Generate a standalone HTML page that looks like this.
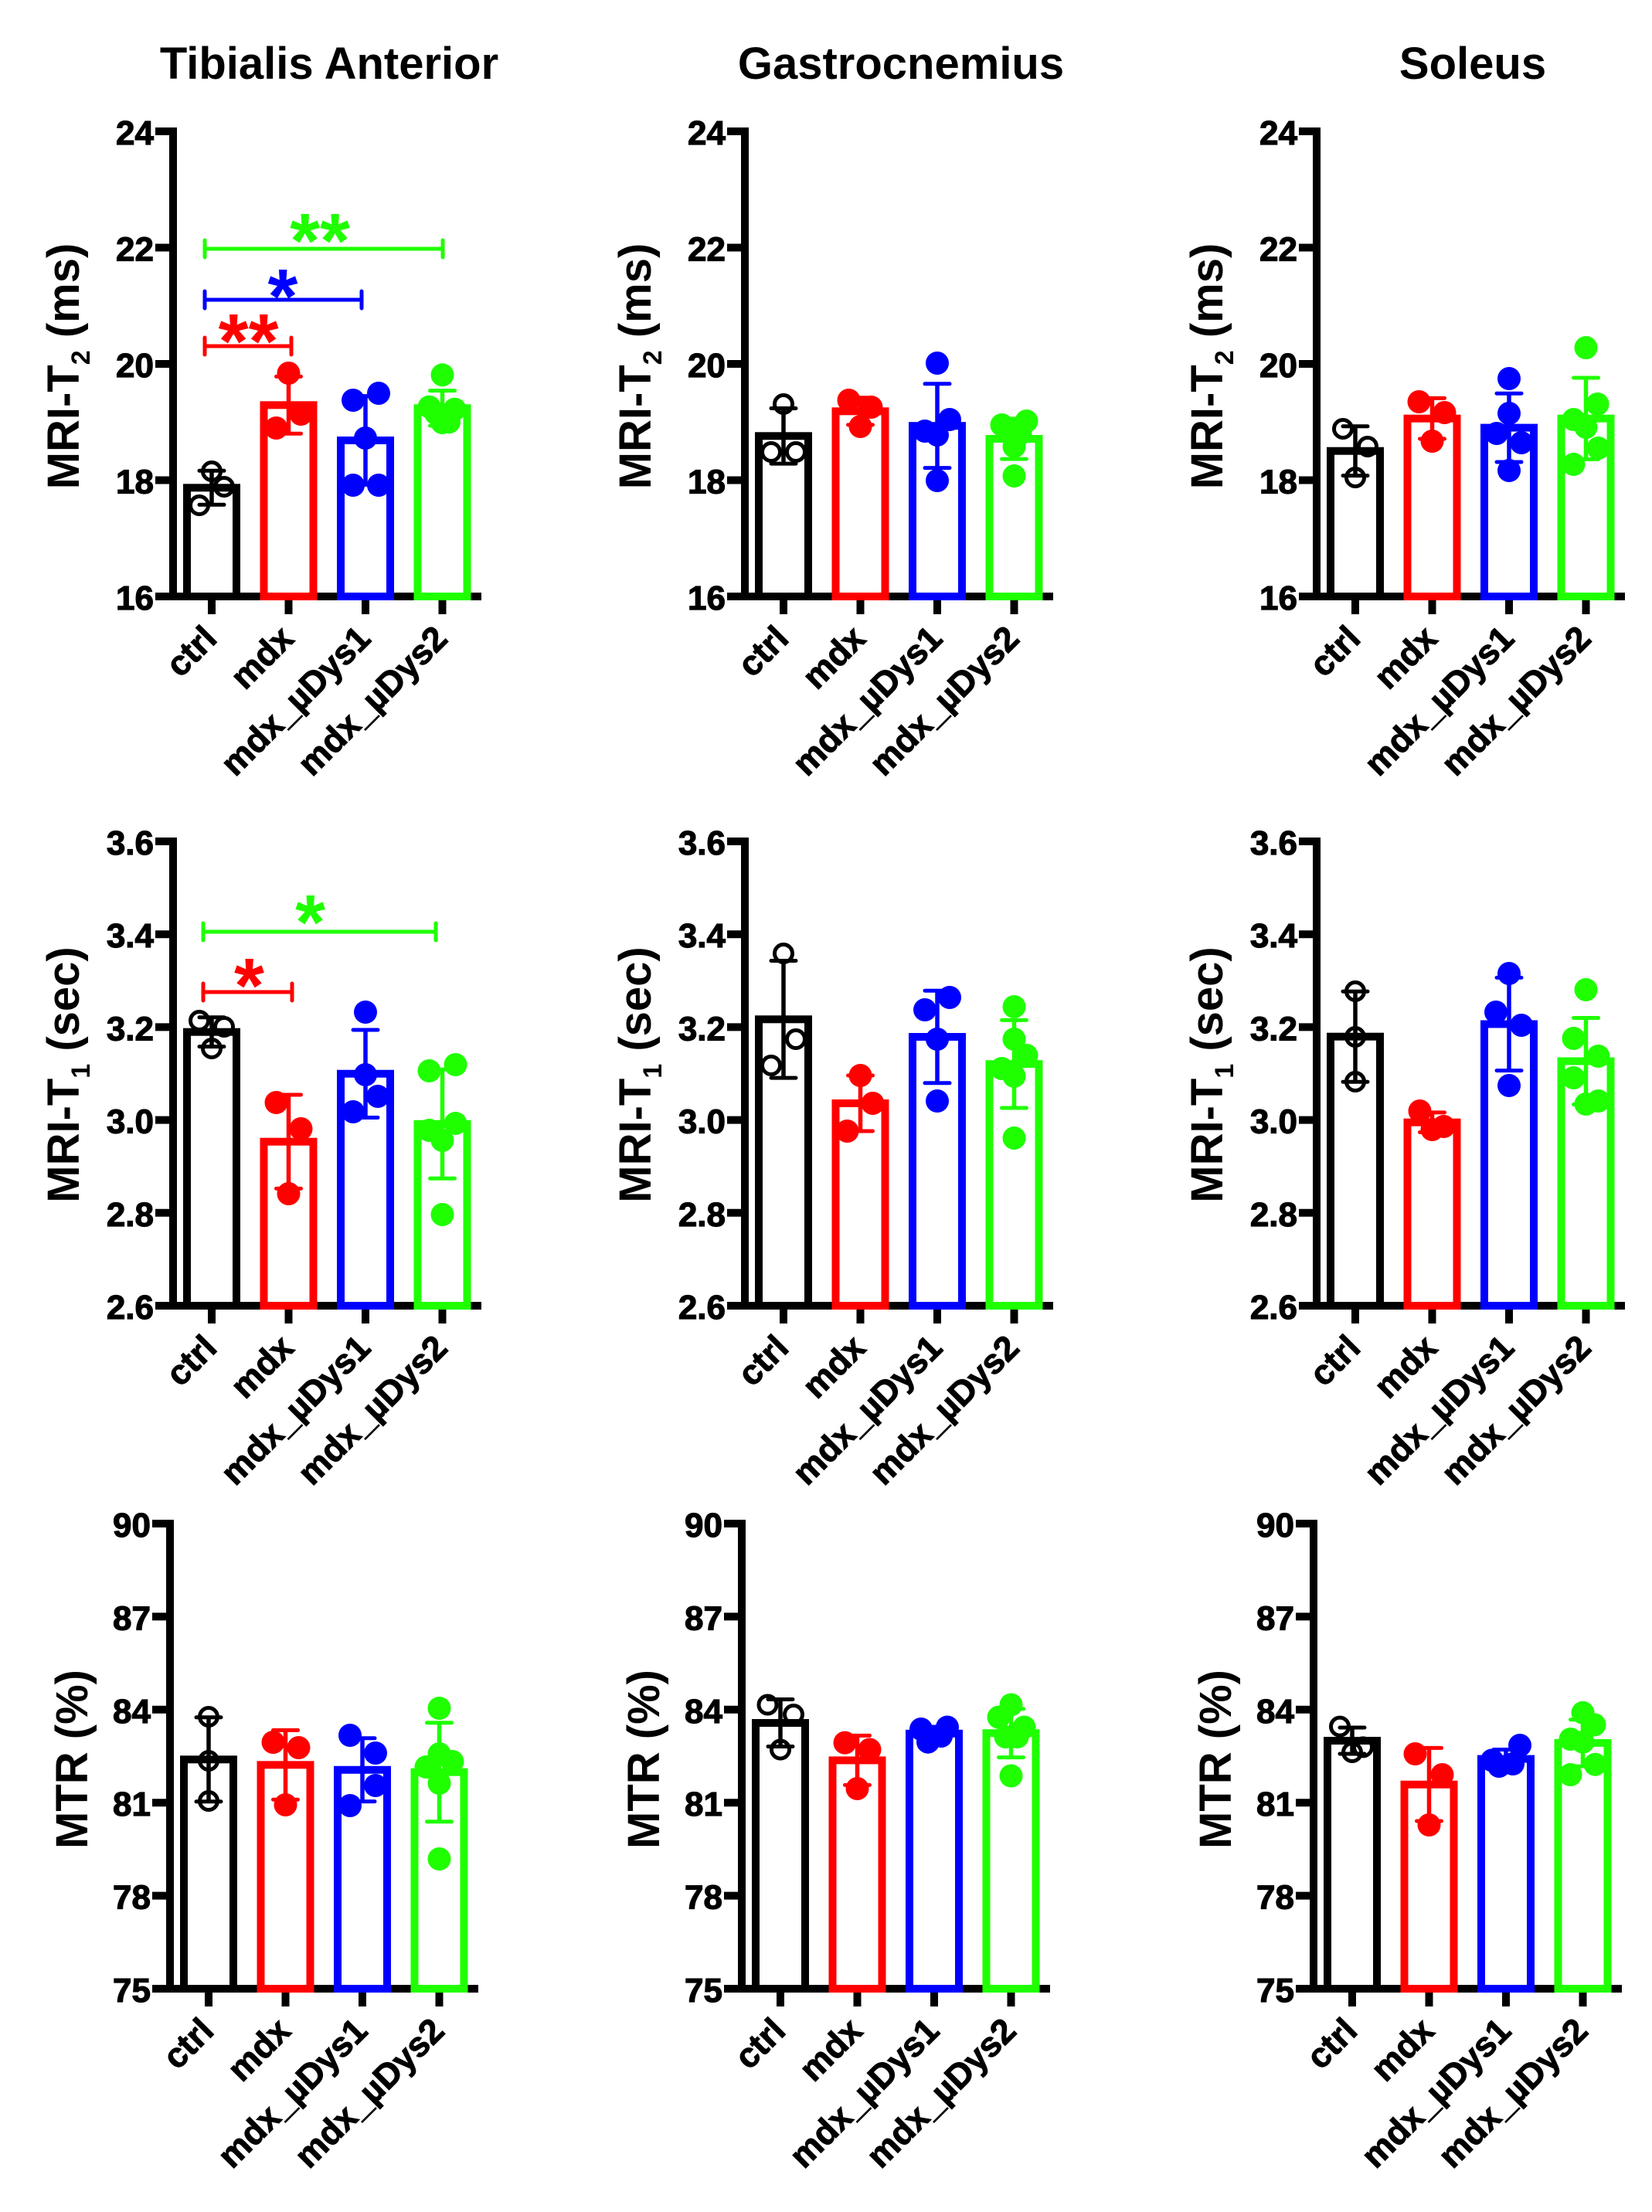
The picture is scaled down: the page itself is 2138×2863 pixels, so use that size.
<!DOCTYPE html>
<html><head><meta charset="utf-8">
<style>
html,body{margin:0;padding:0;background:#fff;}
svg{display:block;}
text{font-family:"Liberation Sans",Arial,sans-serif;font-weight:bold;fill:#000;}
.ax{stroke:#000;stroke-width:10;fill:none;}
.tl{font-size:44px;text-anchor:end;stroke:#000;stroke-width:1.2;}
.xl{font-size:45px;text-anchor:end;stroke:#000;stroke-width:1;}
.bar{fill:none;stroke-width:10;}
.eb{stroke-width:5.5;fill:none;}
.cap{stroke-width:5;stroke-linecap:round;fill:none;}
.k{stroke:#000;} .r{stroke:#f00;} .b{stroke:#00f;} .g{stroke:#1fff00;}
.ko{fill:none;stroke:#000;stroke-width:5;}
.rf{fill:#f00;} .bf{fill:#00f;} .gf{fill:#1fff00;}
.st{font-size:100px;text-anchor:middle;}
.ttl{font-size:58px;text-anchor:middle;}
</style></head>
<body>
<svg width="2138" height="2863" viewBox="0 0 2138 2863" xmlns="http://www.w3.org/2000/svg">
<rect width="2138" height="2863" fill="#fff"/>

<!-- Column titles -->
<text class="ttl" x="426" y="102">Tibialis Anterior</text>
<text class="ttl" x="1166" y="102">Gastrocnemius</text>
<text class="ttl" x="1906" y="102">Soleus</text>

<!-- Y axis titles -->
<text class="ttl" transform="translate(102,474) rotate(-90)">MRI-T<tspan font-size="34" dy="14">2</tspan><tspan dy="-14"> (ms)</tspan></text>
<text class="ttl" transform="translate(842,474) rotate(-90)">MRI-T<tspan font-size="34" dy="14">2</tspan><tspan dy="-14"> (ms)</tspan></text>
<text class="ttl" transform="translate(1582,474) rotate(-90)">MRI-T<tspan font-size="34" dy="14">2</tspan><tspan dy="-14"> (ms)</tspan></text>
<text class="ttl" transform="translate(102,1391) rotate(-90)">MRI-T<tspan font-size="34" dy="14">1</tspan><tspan dy="-14"> (sec)</tspan></text>
<text class="ttl" transform="translate(842,1391) rotate(-90)">MRI-T<tspan font-size="34" dy="14">1</tspan><tspan dy="-14"> (sec)</tspan></text>
<text class="ttl" transform="translate(1582,1391) rotate(-90)">MRI-T<tspan font-size="34" dy="14">1</tspan><tspan dy="-14"> (sec)</tspan></text>
<text class="ttl" transform="translate(113,2277) rotate(-90)">MTR (%)</text>
<text class="ttl" transform="translate(853,2277) rotate(-90)">MTR (%)</text>
<text class="ttl" transform="translate(1593,2277) rotate(-90)">MTR (%)</text>

<!-- ============ ROW 1: T2 ============ -->
<g transform="translate(224,772)">
<path class="ax" d="M0,5V-607 M-23,0H399 M-23,-150.5H0 M-23,-301H0 M-23,-451.5H0 M-23,-602H0 M50,0V23 M149.5,0V23 M249,0V23 M348.5,0V23"/>
<g class="tl"><text x="-25" y="17">16</text><text x="-25" y="-133.5">18</text><text x="-25" y="-284">20</text><text x="-25" y="-434.5">22</text><text x="-25" y="-585">24</text></g>
<rect class="bar k" x="18" y="-140.7" width="64" height="140.7"/>
<rect class="bar r" x="117.5" y="-247.7" width="64" height="247.7"/>
<rect class="bar b" x="217" y="-202" width="64" height="202"/>
<rect class="bar g" x="316.5" y="-243.7" width="64" height="243.7"/>
<circle class="ko" cx="50" cy="-162" r="11.5"/><circle class="ko" cx="66" cy="-142" r="11.5"/><circle class="ko" cx="34" cy="-118" r="11.5"/>
<g class="rf"><circle cx="149.5" cy="-289" r="15"/><circle cx="165.5" cy="-236" r="15"/><circle cx="133.5" cy="-218" r="15"/></g>
<g class="bf"><circle cx="233" cy="-254" r="15"/><circle cx="266" cy="-263" r="15"/><circle cx="249" cy="-205" r="15"/><circle cx="233" cy="-144" r="15"/><circle cx="266" cy="-144" r="15"/></g>
<g class="gf"><circle cx="348.5" cy="-286.7" r="15"/><circle cx="331.5" cy="-245.3" r="15"/><circle cx="364.5" cy="-242.3" r="15"/><circle cx="348.5" cy="-225" r="15"/><circle cx="340" cy="-237" r="15"/><circle cx="357" cy="-225.75" r="15"/></g>
<path class="eb k" d="M50,-162.7V-118.7"/><path class="cap k" d="M34,-162.7H66 M34,-118.7H66"/>
<path class="eb r" d="M149.5,-284.6V-210.8"/><path class="cap r" d="M133.5,-284.6H165.5 M133.5,-210.8H165.5"/>
<path class="eb b" d="M249,-259.4V-144.6"/><path class="cap b" d="M233,-259.4H265 M233,-144.6H265"/>
<path class="eb g" d="M348.5,-266.4V-221"/><path class="cap g" d="M332.5,-266.4H364.5 M332.5,-221H364.5"/>
<path class="cap g" d="M41,-450H349 M41,-461V-439 M349,-461V-439"/>
<path class="cap b" d="M41,-384H244 M41,-395V-373 M244,-395V-373"/>
<path class="cap r" d="M41,-324H153 M41,-335V-313 M153,-335V-313"/>
<text class="st" x="190" y="-426" style="fill:#1fff00">**</text>
<text class="st" x="142" y="-354" style="fill:#00f">*</text>
<text class="st" x="97.6" y="-296" style="fill:#f00">**</text>
<g class="xl"><text transform="translate(59,57) rotate(-45)">ctrl</text><text transform="translate(158.5,57) rotate(-45)">mdx</text><text transform="translate(258,57) rotate(-45)">mdx_µDys1</text><text transform="translate(357.5,57) rotate(-45)">mdx_µDys2</text></g>
</g>

<g transform="translate(964,772)">
<path class="ax" d="M0,5V-607 M-23,0H399 M-23,-150.5H0 M-23,-301H0 M-23,-451.5H0 M-23,-602H0 M50,0V23 M149.5,0V23 M249,0V23 M348.5,0V23"/>
<g class="tl"><text x="-25" y="17">16</text><text x="-25" y="-133.5">18</text><text x="-25" y="-284">20</text><text x="-25" y="-434.5">22</text><text x="-25" y="-585">24</text></g>
<rect class="bar k" x="18" y="-207.7" width="64" height="207.7"/>
<rect class="bar r" x="117.5" y="-239.7" width="64" height="239.7"/>
<rect class="bar b" x="217" y="-220.8" width="64" height="220.8"/>
<rect class="bar g" x="316.5" y="-204" width="64" height="204"/>
<circle class="ko" cx="34" cy="-187" r="11.5"/><circle class="ko" cx="66" cy="-187" r="11.5"/><circle class="ko" cx="50" cy="-249" r="11.5"/>
<g class="rf"><circle cx="134.5" cy="-254" r="15"/><circle cx="163.5" cy="-245" r="15"/><circle cx="149.5" cy="-220" r="15"/></g>
<g class="bf"><circle cx="249" cy="-302" r="15"/><circle cx="265" cy="-229" r="15"/><circle cx="233" cy="-214" r="15"/><circle cx="249" cy="-209" r="15"/><circle cx="249" cy="-150" r="15"/></g>
<g class="gf"><circle cx="332.5" cy="-222" r="15"/><circle cx="364.5" cy="-227" r="15"/><circle cx="348.5" cy="-194" r="15"/><circle cx="348.5" cy="-156" r="15"/><circle cx="340.5" cy="-214.5" r="15"/><circle cx="356.5" cy="-210.7" r="15"/></g>
<path class="eb k" d="M50,-243.5V-171.9"/><path class="cap k" d="M34,-243.5H66 M34,-171.9H66"/>
<path class="eb r" d="M149.5,-257.3V-222.1"/><path class="cap r" d="M133.5,-257.3H165.5 M133.5,-222.1H165.5"/>
<path class="eb b" d="M249,-275.2V-166.4"/><path class="cap b" d="M233,-275.2H265 M233,-166.4H265"/>
<path class="eb g" d="M348.5,-230.1V-177.9"/><path class="cap g" d="M332.5,-230.1H364.5 M332.5,-177.9H364.5"/>
<g class="xl"><text transform="translate(59,57) rotate(-45)">ctrl</text><text transform="translate(158.5,57) rotate(-45)">mdx</text><text transform="translate(258,57) rotate(-45)">mdx_µDys1</text><text transform="translate(357.5,57) rotate(-45)">mdx_µDys2</text></g>
</g>

<g transform="translate(1704,772)">
<path class="ax" d="M0,5V-607 M-23,0H399 M-23,-150.5H0 M-23,-301H0 M-23,-451.5H0 M-23,-602H0 M50,0V23 M149.5,0V23 M249,0V23 M348.5,0V23"/>
<g class="tl"><text x="-25" y="17">16</text><text x="-25" y="-133.5">18</text><text x="-25" y="-284">20</text><text x="-25" y="-434.5">22</text><text x="-25" y="-585">24</text></g>
<rect class="bar k" x="18" y="-188.3" width="64" height="188.3"/>
<rect class="bar r" x="117.5" y="-230.3" width="64" height="230.3"/>
<rect class="bar b" x="217" y="-218.4" width="64" height="218.4"/>
<rect class="bar g" x="316.5" y="-230.3" width="64" height="230.3"/>
<circle class="ko" cx="34" cy="-217" r="11.5"/><circle class="ko" cx="66" cy="-194" r="11.5"/><circle class="ko" cx="50" cy="-154" r="11.5"/>
<g class="rf"><circle cx="132.5" cy="-252" r="15"/><circle cx="165.5" cy="-238" r="15"/><circle cx="149.5" cy="-201" r="15"/></g>
<g class="bf"><circle cx="249" cy="-282" r="15"/><circle cx="249" cy="-237" r="15"/><circle cx="233" cy="-211" r="15"/><circle cx="265" cy="-199" r="15"/><circle cx="249" cy="-163" r="15"/></g>
<g class="gf"><circle cx="348.5" cy="-322" r="15"/><circle cx="363.5" cy="-249" r="15"/><circle cx="332.5" cy="-229" r="15"/><circle cx="348.5" cy="-219" r="15"/><circle cx="364.5" cy="-192" r="15"/><circle cx="332.5" cy="-171" r="15"/></g>
<path class="eb k" d="M50,-220.2V-156.4"/><path class="cap k" d="M34,-220.2H66 M34,-156.4H66"/>
<path class="eb r" d="M149.5,-256.6V-204"/><path class="cap r" d="M133.5,-256.6H165.5 M133.5,-204H165.5"/>
<path class="eb b" d="M249,-262.8V-174"/><path class="cap b" d="M233,-262.8H265 M233,-174H265"/>
<path class="eb g" d="M348.5,-283V-177.6"/><path class="cap g" d="M332.5,-283H364.5 M332.5,-177.6H364.5"/>
<g class="xl"><text transform="translate(59,57) rotate(-45)">ctrl</text><text transform="translate(158.5,57) rotate(-45)">mdx</text><text transform="translate(258,57) rotate(-45)">mdx_µDys1</text><text transform="translate(357.5,57) rotate(-45)">mdx_µDys2</text></g>
</g>

<!-- ============ ROW 2: T1 ============ -->
<g transform="translate(224,1690)">
<path class="ax" d="M0,5V-606 M-23,0H399 M-23,-120.2H0 M-23,-240.4H0 M-23,-360.6H0 M-23,-480.8H0 M-23,-601H0 M50,0V23 M149.5,0V23 M249,0V23 M348.5,0V23"/>
<g class="tl"><text x="-25" y="17">2.6</text><text x="-25" y="-103.2">2.8</text><text x="-25" y="-223.4">3.0</text><text x="-25" y="-343.6">3.2</text><text x="-25" y="-463.8">3.4</text><text x="-25" y="-584">3.6</text></g>
<rect class="bar k" x="18" y="-354.3" width="64" height="354.3"/>
<rect class="bar r" x="117.5" y="-212.3" width="64" height="212.3"/>
<rect class="bar b" x="217" y="-300.25" width="64" height="300.25"/>
<rect class="bar g" x="316.5" y="-235.2" width="64" height="235.2"/>
<circle class="ko" cx="34" cy="-369" r="11.5"/><circle class="ko" cx="66" cy="-361" r="11.5"/><circle class="ko" cx="50" cy="-333" r="11.5"/>
<g class="rf"><circle cx="133.5" cy="-263" r="15"/><circle cx="165.5" cy="-229" r="15"/><circle cx="149.5" cy="-145" r="15"/></g>
<g class="bf"><circle cx="249" cy="-380" r="15"/><circle cx="249" cy="-299" r="15"/><circle cx="265" cy="-271" r="15"/><circle cx="233" cy="-251" r="15"/></g>
<g class="gf"><circle cx="331.5" cy="-304" r="15"/><circle cx="365.5" cy="-312" r="15"/><circle cx="331.5" cy="-227" r="15"/><circle cx="365.5" cy="-236" r="15"/><circle cx="348.5" cy="-214" r="15"/><circle cx="348.5" cy="-118" r="15"/></g>
<path class="eb k" d="M50,-373.2V-335.4"/><path class="cap k" d="M34,-373.2H66 M34,-335.4H66"/>
<path class="eb r" d="M149.5,-273V-151.6"/><path class="cap r" d="M133.5,-273H165.5 M133.5,-151.6H165.5"/>
<path class="eb b" d="M249,-357V-243.5"/><path class="cap b" d="M233,-357H265 M233,-243.5H265"/>
<path class="eb g" d="M348.5,-305.7V-164.7"/><path class="cap g" d="M332.5,-305.7H364.5 M332.5,-164.7H364.5"/>
<path class="cap g" d="M39,-484H340 M39,-495V-473 M340,-495V-473"/>
<path class="cap r" d="M39,-406H154 M39,-417V-395 M154,-417V-395"/>
<text class="st" x="177.6" y="-462" style="fill:#1fff00">*</text>
<text class="st" x="98.5" y="-380" style="fill:#f00">*</text>
<g class="xl"><text transform="translate(59,57) rotate(-45)">ctrl</text><text transform="translate(158.5,57) rotate(-45)">mdx</text><text transform="translate(258,57) rotate(-45)">mdx_µDys1</text><text transform="translate(357.5,57) rotate(-45)">mdx_µDys2</text></g>
</g>

<g transform="translate(964,1690)">
<path class="ax" d="M0,5V-606 M-23,0H399 M-23,-120.2H0 M-23,-240.4H0 M-23,-360.6H0 M-23,-480.8H0 M-23,-601H0 M50,0V23 M149.5,0V23 M249,0V23 M348.5,0V23"/>
<g class="tl"><text x="-25" y="17">2.6</text><text x="-25" y="-103.2">2.8</text><text x="-25" y="-223.4">3.0</text><text x="-25" y="-343.6">3.2</text><text x="-25" y="-463.8">3.4</text><text x="-25" y="-584">3.6</text></g>
<rect class="bar k" x="18" y="-370.7" width="64" height="370.7"/>
<rect class="bar r" x="117.5" y="-262" width="64" height="262"/>
<rect class="bar b" x="217" y="-348" width="64" height="348"/>
<rect class="bar g" x="316.5" y="-312.8" width="64" height="312.8"/>
<circle class="ko" cx="50" cy="-456" r="11.5"/><circle class="ko" cx="66" cy="-345" r="11.5"/><circle class="ko" cx="34" cy="-311" r="11.5"/>
<g class="rf"><circle cx="149.5" cy="-298" r="15"/><circle cx="165.5" cy="-262" r="15"/><circle cx="132.5" cy="-226" r="15"/></g>
<g class="bf"><circle cx="265" cy="-399" r="15"/><circle cx="233" cy="-383" r="15"/><circle cx="249" cy="-345" r="15"/><circle cx="249" cy="-265" r="15"/></g>
<g class="gf"><circle cx="348.5" cy="-387" r="15"/><circle cx="348.5" cy="-345" r="15"/><circle cx="364.5" cy="-324" r="15"/><circle cx="332.5" cy="-307" r="15"/><circle cx="348.5" cy="-297" r="15"/><circle cx="348.5" cy="-217" r="15"/></g>
<path class="eb k" d="M50,-446.5V-294.9"/><path class="cap k" d="M34,-446.5H66 M34,-294.9H66"/>
<path class="eb r" d="M149.5,-298V-226"/><path class="cap r" d="M133.5,-298H165.5 M133.5,-226H165.5"/>
<path class="eb b" d="M249,-407.8V-288.2"/><path class="cap b" d="M233,-407.8H265 M233,-288.2H265"/>
<path class="eb g" d="M348.5,-369.6V-256"/><path class="cap g" d="M332.5,-369.6H364.5 M332.5,-256H364.5"/>
<g class="xl"><text transform="translate(59,57) rotate(-45)">ctrl</text><text transform="translate(158.5,57) rotate(-45)">mdx</text><text transform="translate(258,57) rotate(-45)">mdx_µDys1</text><text transform="translate(357.5,57) rotate(-45)">mdx_µDys2</text></g>
</g>

<g transform="translate(1704,1690)">
<path class="ax" d="M0,5V-606 M-23,0H399 M-23,-120.2H0 M-23,-240.4H0 M-23,-360.6H0 M-23,-480.8H0 M-23,-601H0 M50,0V23 M149.5,0V23 M249,0V23 M348.5,0V23"/>
<g class="tl"><text x="-25" y="17">2.6</text><text x="-25" y="-103.2">2.8</text><text x="-25" y="-223.4">3.0</text><text x="-25" y="-343.6">3.2</text><text x="-25" y="-463.8">3.4</text><text x="-25" y="-584">3.6</text></g>
<rect class="bar k" x="18" y="-348.3" width="64" height="348.3"/>
<rect class="bar r" x="117.5" y="-237.3" width="64" height="237.3"/>
<rect class="bar b" x="217" y="-364.5" width="64" height="364.5"/>
<rect class="bar g" x="316.5" y="-316.5" width="64" height="316.5"/>
<circle class="ko" cx="50" cy="-407" r="11.5"/><circle class="ko" cx="50" cy="-348" r="11.5"/><circle class="ko" cx="50" cy="-290" r="11.5"/>
<g class="rf"><circle cx="133.5" cy="-252" r="15"/><circle cx="149.5" cy="-228" r="15"/><circle cx="164.5" cy="-232" r="15"/></g>
<g class="bf"><circle cx="249" cy="-430" r="15"/><circle cx="232" cy="-380" r="15"/><circle cx="265" cy="-363" r="15"/><circle cx="249" cy="-285" r="15"/></g>
<g class="gf"><circle cx="348.5" cy="-409" r="15"/><circle cx="332.5" cy="-346" r="15"/><circle cx="364.5" cy="-323" r="15"/><circle cx="332.5" cy="-295" r="15"/><circle cx="348.5" cy="-261" r="15"/><circle cx="364.5" cy="-265" r="15"/></g>
<path class="eb k" d="M50,-406.8V-289.8"/><path class="cap k" d="M34,-406.8H66 M34,-289.8H66"/>
<path class="eb r" d="M149.5,-250.1V-224.5"/><path class="cap r" d="M133.5,-250.1H165.5 M133.5,-224.5H165.5"/>
<path class="eb b" d="M249,-424.6V-304.4"/><path class="cap b" d="M233,-424.6H265 M233,-304.4H265"/>
<path class="eb g" d="M348.5,-372.5V-260.5"/><path class="cap g" d="M332.5,-372.5H364.5 M332.5,-260.5H364.5"/>
<g class="xl"><text transform="translate(59,57) rotate(-45)">ctrl</text><text transform="translate(158.5,57) rotate(-45)">mdx</text><text transform="translate(258,57) rotate(-45)">mdx_µDys1</text><text transform="translate(357.5,57) rotate(-45)">mdx_µDys2</text></g>
</g>

<!-- ============ ROW 3: MTR ============ -->
<g transform="translate(220,2574)">
<path class="ax" d="M0,5V-607 M-23,0H399 M-23,-120.4H0 M-23,-240.8H0 M-23,-361.2H0 M-23,-481.6H0 M-23,-602H0 M50,0V23 M149.5,0V23 M249,0V23 M348.5,0V23"/>
<g class="tl"><text x="-25" y="17">75</text><text x="-25" y="-103.4">78</text><text x="-25" y="-223.8">81</text><text x="-25" y="-344.2">84</text><text x="-25" y="-464.6">87</text><text x="-25" y="-585">90</text></g>
<rect class="bar k" x="18" y="-296.7" width="64" height="296.7"/>
<rect class="bar r" x="117.5" y="-289.7" width="64" height="289.7"/>
<rect class="bar b" x="217" y="-283.25" width="64" height="283.25"/>
<rect class="bar g" x="316.5" y="-280.3" width="64" height="280.3"/>
<circle class="ko" cx="50" cy="-352" r="11.5"/><circle class="ko" cx="50" cy="-295" r="11.5"/><circle class="ko" cx="50" cy="-243" r="11.5"/>
<g class="rf"><circle cx="133.5" cy="-319" r="15"/><circle cx="166.5" cy="-312" r="15"/><circle cx="149.5" cy="-238" r="15"/></g>
<g class="bf"><circle cx="233" cy="-328" r="15"/><circle cx="266" cy="-305" r="15"/><circle cx="266" cy="-263" r="15"/><circle cx="233" cy="-237" r="15"/></g>
<g class="gf"><circle cx="348.5" cy="-363" r="15"/><circle cx="348.5" cy="-304" r="15"/><circle cx="365.5" cy="-294" r="15"/><circle cx="331.5" cy="-287" r="15"/><circle cx="348.5" cy="-266" r="15"/><circle cx="348.5" cy="-168" r="15"/></g>
<path class="eb k" d="M50,-351.2V-242.2"/><path class="cap k" d="M34,-351.2H66 M34,-242.2H66"/>
<path class="eb r" d="M149.5,-334.6V-244.8"/><path class="cap r" d="M133.5,-334.6H165.5 M133.5,-244.8H165.5"/>
<path class="eb b" d="M249,-324.2V-242.4"/><path class="cap b" d="M233,-324.2H265 M233,-242.4H265"/>
<path class="eb g" d="M348.5,-344.3V-216.3"/><path class="cap g" d="M332.5,-344.3H364.5 M332.5,-216.3H364.5"/>
<g class="xl"><text transform="translate(59,57) rotate(-45)">ctrl</text><text transform="translate(158.5,57) rotate(-45)">mdx</text><text transform="translate(258,57) rotate(-45)">mdx_µDys1</text><text transform="translate(357.5,57) rotate(-45)">mdx_µDys2</text></g>
</g>

<g transform="translate(960,2574)">
<path class="ax" d="M0,5V-607 M-23,0H399 M-23,-120.4H0 M-23,-240.8H0 M-23,-361.2H0 M-23,-481.6H0 M-23,-602H0 M50,0V23 M149.5,0V23 M249,0V23 M348.5,0V23"/>
<g class="tl"><text x="-25" y="17">75</text><text x="-25" y="-103.4">78</text><text x="-25" y="-223.8">81</text><text x="-25" y="-344.2">84</text><text x="-25" y="-464.6">87</text><text x="-25" y="-585">90</text></g>
<rect class="bar k" x="18" y="-344" width="64" height="344"/>
<rect class="bar r" x="117.5" y="-295.6" width="64" height="295.6"/>
<rect class="bar b" x="217" y="-330.2" width="64" height="330.2"/>
<rect class="bar g" x="316.5" y="-330.8" width="64" height="330.8"/>
<circle class="ko" cx="33.5" cy="-367.5" r="11.5"/><circle class="ko" cx="67" cy="-355" r="11.5"/><circle class="ko" cx="50" cy="-309.5" r="11.5"/>
<g class="rf"><circle cx="133.5" cy="-318.4" r="15"/><circle cx="165.5" cy="-309.5" r="15"/><circle cx="149.5" cy="-259" r="15"/></g>
<g class="bf"><circle cx="232" cy="-336" r="15"/><circle cx="266" cy="-338.5" r="15"/><circle cx="241" cy="-319.3" r="15"/><circle cx="258" cy="-327" r="15"/></g>
<g class="gf"><circle cx="348.5" cy="-367.5" r="15"/><circle cx="332.5" cy="-351.4" r="15"/><circle cx="365.5" cy="-338.5" r="15"/><circle cx="341.5" cy="-326" r="15"/><circle cx="356.5" cy="-326" r="15"/><circle cx="348.5" cy="-275.5" r="15"/></g>
<path class="eb k" d="M50,-374.5V-313.5"/><path class="cap k" d="M34,-374.5H66 M34,-313.5H66"/>
<path class="eb r" d="M149.5,-327.6V-263.6"/><path class="cap r" d="M133.5,-327.6H165.5 M133.5,-263.6H165.5"/>
<path class="eb b" d="M249,-339V-321.4"/><path class="cap b" d="M233,-339H265 M233,-321.4H265"/>
<path class="eb g" d="M348.5,-362.2V-299.4"/><path class="cap g" d="M332.5,-362.2H364.5 M332.5,-299.4H364.5"/>
<g class="xl"><text transform="translate(59,57) rotate(-45)">ctrl</text><text transform="translate(158.5,57) rotate(-45)">mdx</text><text transform="translate(258,57) rotate(-45)">mdx_µDys1</text><text transform="translate(357.5,57) rotate(-45)">mdx_µDys2</text></g>
</g>

<g transform="translate(1700,2574)">
<path class="ax" d="M0,5V-607 M-23,0H399 M-23,-120.4H0 M-23,-240.8H0 M-23,-361.2H0 M-23,-481.6H0 M-23,-602H0 M50,0V23 M149.5,0V23 M249,0V23 M348.5,0V23"/>
<g class="tl"><text x="-25" y="17">75</text><text x="-25" y="-103.4">78</text><text x="-25" y="-223.8">81</text><text x="-25" y="-344.2">84</text><text x="-25" y="-464.6">87</text><text x="-25" y="-585">90</text></g>
<rect class="bar k" x="18" y="-321" width="64" height="321"/>
<rect class="bar r" x="117.5" y="-264.3" width="64" height="264.3"/>
<rect class="bar b" x="217" y="-297.4" width="64" height="297.4"/>
<rect class="bar g" x="316.5" y="-318.1" width="64" height="318.1"/>
<circle class="ko" cx="34" cy="-339.4" r="11.5"/><circle class="ko" cx="64" cy="-312.6" r="11.5"/><circle class="ko" cx="50" cy="-306" r="11.5"/>
<g class="rf"><circle cx="131.5" cy="-304" r="15"/><circle cx="166.5" cy="-277" r="15"/><circle cx="149.5" cy="-212" r="15"/></g>
<g class="bf"><circle cx="267" cy="-315" r="15"/><circle cx="258" cy="-291" r="15"/><circle cx="231" cy="-295.6" r="15"/><circle cx="240" cy="-288" r="15"/></g>
<g class="gf"><circle cx="348.5" cy="-357.2" r="15"/><circle cx="363.5" cy="-341.6" r="15"/><circle cx="332.5" cy="-323" r="15"/><circle cx="348.5" cy="-319.3" r="15"/><circle cx="364.5" cy="-290.3" r="15"/><circle cx="332.5" cy="-277" r="15"/></g>
<path class="eb k" d="M50,-338V-304"/><path class="cap k" d="M34,-338H66 M34,-304H66"/>
<path class="eb r" d="M149.5,-311.6V-217"/><path class="cap r" d="M133.5,-311.6H165.5 M133.5,-217H165.5"/>
<path class="eb b" d="M249,-309.5V-285.3"/><path class="cap b" d="M233,-309.5H265 M233,-285.3H265"/>
<path class="eb g" d="M348.5,-348.3V-287.9"/><path class="cap g" d="M332.5,-348.3H364.5 M332.5,-287.9H364.5"/>
<g class="xl"><text transform="translate(59,57) rotate(-45)">ctrl</text><text transform="translate(158.5,57) rotate(-45)">mdx</text><text transform="translate(258,57) rotate(-45)">mdx_µDys1</text><text transform="translate(357.5,57) rotate(-45)">mdx_µDys2</text></g>
</g>

</svg>
</body></html>
